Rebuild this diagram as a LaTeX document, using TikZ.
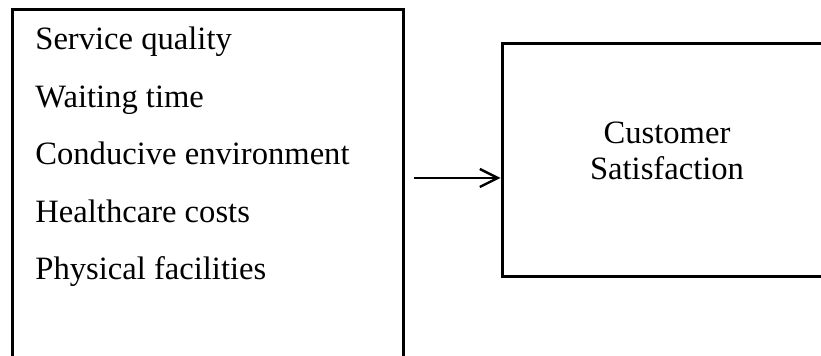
\documentclass[tikz,border=0pt]{standalone}
\usepackage{fontspec}
\setmainfont{Liberation Serif}
\usetikzlibrary{arrows.meta}
\tikzset{
  >={Straight Barb[length=9pt,width=9pt]},
  box/.style={draw,line width=1.5pt,rectangle,inner sep=0pt},
  item/.style={anchor=base west,inner sep=0pt},
}
\tikzstyle{every node}=[font=\fontsize{16.3}{18}\selectfont]

\begin{document}
\begin{tikzpicture}[x=0.5pt,y=-0.5pt]
  \useasboundingbox (0,0) rectangle (821,356);
  \clip (0,0) rectangle (821,356);
  \fill[white] (0,0) rectangle (821,356);
  % left box, runs off the bottom
  \node[box,minimum width=195.5pt,minimum height=195pt] (factors) at (207.5,205) {};
  \foreach \name/\txt [count=\i] in {sq/Service quality,wt/Waiting time,ce/Conducive environment,hc/Healthcare costs,pf/Physical facilities}
    \node[item] (\name) at (35,{50+57.5*(\i-1)}) {\txt};
  % right box, runs off the right edge
  \node[box,minimum width=165pt,minimum height=116.5pt] (outcome) at (667,160.5) {};
  \node[align=center,yshift=5pt] (cs) at (outcome.center) {Customer\\Satisfaction};
  \coordinate (start) at (414,178);
  \draw[line width=1.2pt,->] (start) -- (start -| outcome.west);
\end{tikzpicture}
\end{document}
